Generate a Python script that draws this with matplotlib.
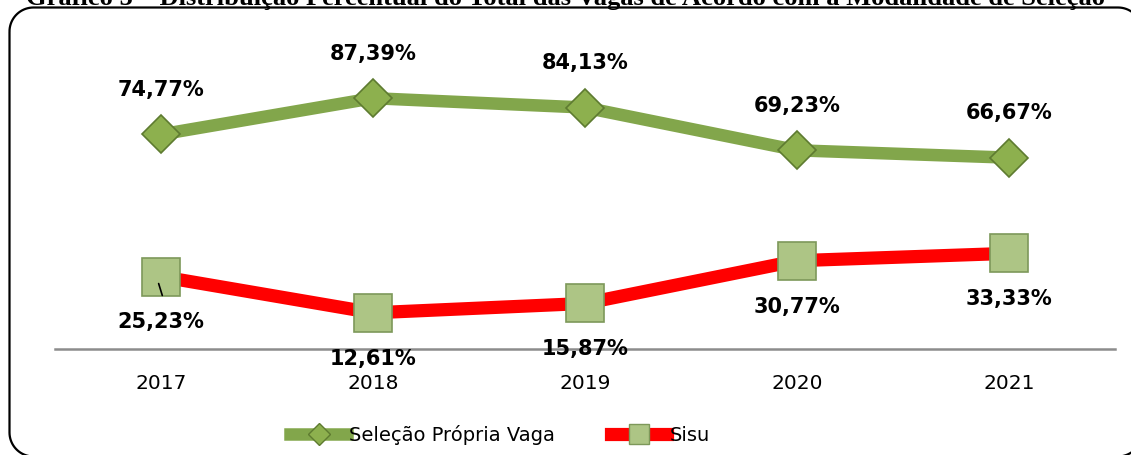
import numpy as np
import matplotlib.pyplot as plt
from matplotlib.lines import Line2D
from matplotlib.patches import Polygon

# data
years = ["2017", "2018", "2019", "2020", "2021"]
selecao = [74.77, 87.39, 84.13, 69.23, 66.67]
sisu = [25.23, 12.61, 15.87, 30.77, 33.33]
selecao_labels = ["74,77%", "87,39%", "84,13%", "69,23%", "66,67%"]
sisu_labels = ["25,23%", "12,61%", "15,87%", "30,77%", "33,33%"]
title = ("Gráfico 5 \u2013 Distribuição Percentual do Total das Vagas "
         "de Acordo com a Modalidade de Seleção")

W, H = 1131, 455
fig = plt.figure(figsize=(W / 100, H / 100), dpi=100)
fig.patch.set_facecolor("white")

# overlay in pixel units for the rounded frame
over = fig.add_axes([0, 0, 1, 1], zorder=0)
over.set_xlim(0, W)
over.set_ylim(H, 0)
over.axis("off")


def rounded_frame(x0, y0, x1, y1, r, n=20):
    pts = []
    corners = [(x0 + r, y0 + r, 180), (x1 - r, y0 + r, 270),
               (x1 - r, y1 - r, 0), (x0 + r, y1 - r, 90)]
    for cx, cy, a0 in corners:
        a = np.radians(np.linspace(a0, a0 + 90, n))
        pts.extend(zip(cx + r * np.cos(a), cy + r * np.sin(a)))
    return pts


frame = Polygon(rounded_frame(9.5, 7.5, 1142, 456.5, 24), closed=True,
                fill=False, edgecolor="black", linewidth=1.6)
over.add_patch(frame)

# caption cut off at the top of the picture
t = fig.text(0.5, 1 - 5 / H, title, ha="center", va="baseline",
             family="Liberation Serif", fontweight="bold", fontsize=16)
fig.canvas.draw()
w = t.get_window_extent().width
t.set_fontsize(16 * 1082 / w)

ax = fig.add_axes([55 / W, (H - 349) / H, 1060 / W, 287 / H], zorder=1)
x = range(len(years))

green = "#82A64B"
ax.plot(x, selecao, color=green, linewidth=9, solid_capstyle="butt",
        marker="D", markersize=19, markerfacecolor="#8DB04E",
        markeredgecolor="#5E7B30", markeredgewidth=1.2, zorder=3)
ax.plot(x, sisu, color="#FF0000", linewidth=9.5, solid_capstyle="butt",
        marker="s", markersize=27, markerfacecolor="#ADC585",
        markeredgecolor="#7D985A", markeredgewidth=1.2, zorder=3)

for i, (v, lab) in enumerate(zip(selecao, selecao_labels)):
    ax.annotate(lab, (i, v), xytext=(0, 32), textcoords="offset points",
                ha="center", va="center", fontsize=15, fontweight="bold")

for i, (v, lab) in enumerate(zip(sisu, sisu_labels)):
    ax.annotate(lab, (i, v), xytext=(0, -33), textcoords="offset points",
                ha="center", va="center", fontsize=15, fontweight="bold")

# leader line on the first Sisu label
ax.annotate("", xy=(-0.015, sisu[0] - 1.5), xytext=(0.01, sisu[0] - 7.5),
            arrowprops=dict(arrowstyle="-", color="black", lw=1.2), zorder=4)

ax.set_xlim(-0.5, len(years) - 0.5)
ax.set_ylim(0, 100)
ax.set_xticks(list(x))
ax.set_xticklabels(years, fontsize=14.5)
ax.tick_params(axis="x", length=0, pad=18)
ax.set_yticks([])
for side in ["top", "left", "right"]:
    ax.spines[side].set_visible(False)
ax.spines["bottom"].set_color("#8C8C8C")
ax.spines["bottom"].set_linewidth(1.8)
ax.patch.set_alpha(0)

handles = [
    Line2D([], [], color=green, linewidth=9, marker="D", markersize=11,
           markerfacecolor="#8DB04E", markeredgecolor="#5E7B30"),
    Line2D([], [], color="#FF0000", linewidth=9.5, marker="s", markersize=14,
           markerfacecolor="#ADC585", markeredgecolor="#7D985A"),
]
fig.legend(handles, ["Seleção Própria Vaga", "Sisu"], loc="center",
           bbox_to_anchor=(500 / W, 1 - 435 / H), ncol=2, frameon=False,
           fontsize=14, handlelength=2.9, handletextpad=0.1,
           columnspacing=2.9)

fig.savefig("out.png", dpi=100)
